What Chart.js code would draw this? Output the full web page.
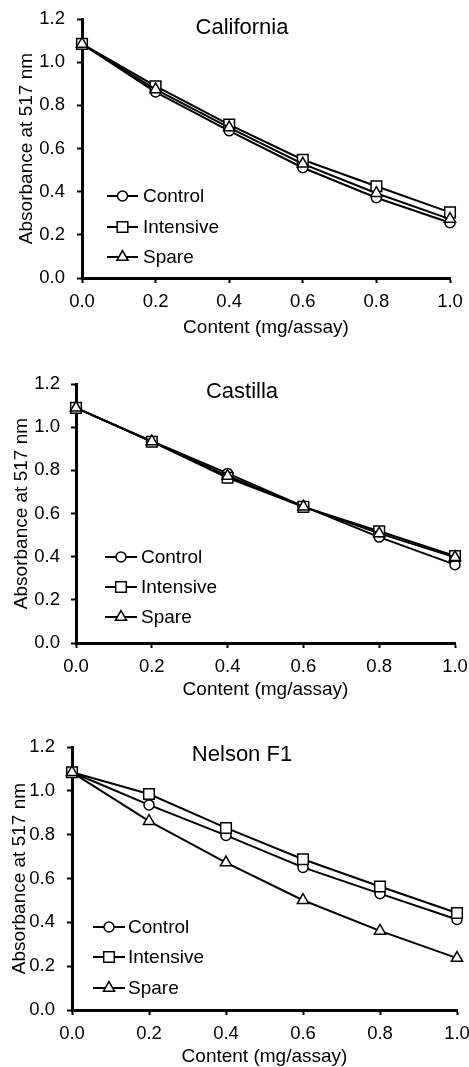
<!DOCTYPE html>
<html lang="en">
<head>
<meta charset="UTF-8" />
<title>Absorbance at 517 nm</title>
<script src="https://cdn.jsdelivr.net/npm/chart.js@4"></script>
<style>
  html, body { margin: 0; padding: 0; background: #fff; }
  body {
    position: relative;
    width: 469px;
    height: 1067px;
    overflow: hidden;   /* last "1.0" tick label is cut at the right edge, like the original */
  }
  .panel { position: absolute; left: 0; width: 490px; }
</style>
</head>
<body>
<div class="panel" id="p1"><canvas id="c1"></canvas></div>
<div class="panel" id="p2"><canvas id="c2"></canvas></div>
<div class="panel" id="p3"><canvas id="c3"></canvas></div>

<script>
// data
const contentLevels = [0, 0.2, 0.4, 0.6, 0.8, 1.0];
const xTicks = [0, 0.2, 0.4, 0.6, 0.8, 1.0];
const yTicks = [0, 0.2, 0.4, 0.6, 0.8, 1.0, 1.2];
const seriesNames = ['Control', 'Intensive', 'Spare'];
const cultivars = ['California', 'Castilla', 'Nelson F1'];

const californiaControl   = [1.085, 0.862, 0.682, 0.511, 0.372, 0.256];
const californiaIntensive = [1.085, 0.889, 0.711, 0.548, 0.425, 0.304];
const californiaSpare     = [1.085, 0.874, 0.697, 0.529, 0.393, 0.273];

const castillaControl   = [1.09, 0.935, 0.786, 0.633, 0.491, 0.363];
const castillaIntensive = [1.09, 0.933, 0.766, 0.631, 0.518, 0.403];
const castillaSpare     = [1.09, 0.934, 0.774, 0.632, 0.508, 0.397];

const nelsonControl   = [1.085, 0.936, 0.797, 0.651, 0.531, 0.413];
const nelsonIntensive = [1.085, 0.986, 0.831, 0.688, 0.564, 0.443];
const nelsonSpare     = [1.085, 0.862, 0.673, 0.501, 0.361, 0.237];

const FONT = '"Liberation Sans", Arial, sans-serif';
const markers = [
  { style: 'circle',   radius: 5 },
  { style: 'rect',     radius: 7.5 },
  { style: 'triangle', radius: 6.5 }
];

// pixel layout of each panel (chart area edges etc.)
const panels = [
  { canvas: 'c1', box: 'p1', name: cultivars[0], series: [californiaControl, californiaIntensive, californiaSpare],
    left: 82, right: 450, top: 16, bottom: 278, yTitlePad: 15.6, yLabelPad: 12, xTitlePad: 1,
    legendX: [25, 56, 61], legendRows: [82, 51, 21], titleDy: 9 },
  { canvas: 'c2', box: 'p2', name: cultivars[1], series: [castillaControl, castillaIntensive, castillaSpare],
    left: 76, right: 455, top: 382, bottom: 643, yTitlePad: 10.6, yLabelPad: 11, xTitlePad: 3.5,
    legendX: [29, 61, 65], legendRows: [86, 56, 26], titleDy: 8 },
  { canvas: 'c3', box: 'p3', name: cultivars[2], series: [nelsonControl, nelsonIntensive, nelsonSpare],
    left: 72, right: 457, top: 744, bottom: 1010, yTitlePad: 8.6, yLabelPad: 12, xTitlePad: 3.5,
    legendX: [21, 53, 56], legendRows: [83, 53, 22], titleDy: 8 }
];

const TOP_PAD = 20;
const X_AXIS_H = 62;
const PANEL_W = 490;

function drawMarker(ctx, style, r, x, y) {
  ctx.beginPath();
  if (style === 'circle') {
    ctx.arc(x, y, r, 0, Math.PI * 2);
  } else if (style === 'rect') {
    const s = r * Math.SQRT1_2;
    ctx.rect(x - s, y - s, 2 * s, 2 * s);
  } else {
    const a = Math.PI / 180;
    ctx.moveTo(x, y - r);
    ctx.lineTo(x + Math.sin(120 * a) * r, y - Math.cos(120 * a) * r);
    ctx.lineTo(x + Math.sin(240 * a) * r, y - Math.cos(240 * a) * r);
    ctx.closePath();
  }
  ctx.fillStyle = '#fff';
  ctx.fill();
  ctx.lineWidth = 1.5;
  ctx.strokeStyle = '#000';
  ctx.stroke();
}

// legend sitting inside the plot + cultivar name at the top
const insideLegend = {
  id: 'insideLegend',
  afterDraw(chart, args, opts) {
    const { ctx, chartArea } = chart;
    ctx.save();
    ctx.font = '22px ' + FONT;
    ctx.fillStyle = '#000';
    ctx.textAlign = 'center';
    ctx.textBaseline = 'middle';
    ctx.fillText(opts.name, 242, chartArea.top + opts.titleDy);

    ctx.font = '19px ' + FONT;
    ctx.textAlign = 'left';
    seriesNames.forEach((label, i) => {
      const y = chartArea.bottom - opts.legendRows[i];
      const x0 = chartArea.left + opts.legendX[0];
      const x1 = chartArea.left + opts.legendX[1];
      ctx.beginPath();
      ctx.moveTo(x0, y);
      ctx.lineTo(x1, y);
      ctx.lineWidth = 2;
      ctx.strokeStyle = '#000';
      ctx.stroke();
      drawMarker(ctx, markers[i].style, markers[i].radius, (x0 + x1) / 2, y);
      ctx.fillStyle = '#000';
      ctx.fillText(label, chartArea.left + opts.legendX[2], y + 1);
    });
    ctx.restore();
  }
};

panels.forEach(p => {
  const box = document.getElementById(p.box);
  box.style.top = (p.top - TOP_PAD) + 'px';
  box.style.height = (p.bottom + X_AXIS_H - (p.top - TOP_PAD)) + 'px';
  box.style.width = PANEL_W + 'px';

  new Chart(document.getElementById(p.canvas), {
    type: 'line',
    data: {
      datasets: p.series.map((vals, i) => ({
        label: seriesNames[i],
        data: contentLevels.map((x, j) => ({ x: x, y: vals[j] })),
        order: p.series.length - i,   // Spare drawn on top, as in the original
        borderColor: '#000',
        borderWidth: 2,
        backgroundColor: '#fff',
        pointStyle: markers[i].style,
        pointRadius: markers[i].radius,
        pointBorderWidth: 1.5,
        pointBackgroundColor: '#fff',
        pointBorderColor: '#000',
        tension: 0,
        clip: false
      }))
    },
    options: {
      responsive: true,
      maintainAspectRatio: false,
      animation: false,
      layout: { padding: { top: TOP_PAD, right: PANEL_W - p.right, left: 0, bottom: 0 } },
      plugins: {
        legend: { display: false },
        tooltip: { enabled: false },
        insideLegend: { name: p.name, titleDy: p.titleDy, legendX: p.legendX, legendRows: p.legendRows }
      },
      scales: {
        x: {
          type: 'linear',
          min: 0,
          max: 1,
          afterBuildTicks: axis => { axis.ticks = xTicks.map(v => ({ value: v })); },
          afterFit: axis => { axis.height = X_AXIS_H; },
          ticks: {
            color: '#000',
            font: { family: FONT, size: 18.5 },
            padding: 8,
            maxRotation: 0,
            callback: v => v.toFixed(1)
          },
          grid: { drawOnChartArea: false, drawTicks: true, tickLength: 5, tickWidth: 2, tickColor: '#000' },
          border: { display: true, color: '#000', width: 3 },
          title: {
            display: true,
            text: 'Content (mg/assay)',
            color: '#000',
            font: { family: FONT, size: 19 },
            padding: { top: 0, bottom: p.xTitlePad }
          }
        },
        y: {
          type: 'linear',
          min: 0,
          max: 1.2,
          afterBuildTicks: axis => { axis.ticks = yTicks.map(v => ({ value: v })); },
          afterFit: axis => { axis.width = p.left; },
          ticks: {
            color: '#000',
            font: { family: FONT, size: 18.5 },
            padding: p.yLabelPad,
            callback: v => v.toFixed(1)
          },
          grid: { drawOnChartArea: false, drawTicks: true, tickLength: 5, tickWidth: 2, tickColor: '#000' },
          border: { display: true, color: '#000', width: 3 },
          title: {
            display: true,
            text: 'Absorbance at 517 nm',
            color: '#000',
            font: { family: FONT, size: 19 },
            padding: { top: p.yTitlePad, bottom: 0 }
          }
        }
      }
    },
    plugins: [insideLegend]
  });
});
</script>
</body>
</html>
